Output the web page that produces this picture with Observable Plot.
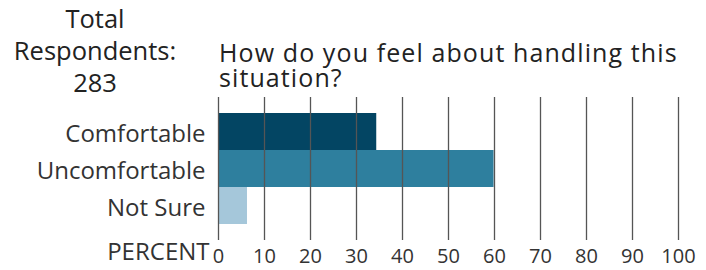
<!DOCTYPE html>
<html><head><meta charset="utf-8">
<script src="https://cdn.jsdelivr.net/npm/d3@7"></script>
<script src="https://cdn.jsdelivr.net/npm/@observablehq/plot@0.6"></script>
<style>
body{margin:0;background:#fff;font-family:"Open Sans",sans-serif;color:#222}
#wrap{position:relative;width:706px;height:270px}
#total{position:absolute;left:0;width:190px;top:2px;text-align:center;font-size:25.5px;line-height:32px;color:#222}
.tline{position:absolute;left:219px;height:25px;font-size:25px;line-height:25px;letter-spacing:1.1px;color:#222;white-space:nowrap}
</style></head><body>
<div id="wrap"><div id="chart"></div><div id="total">Total<br>Respondents:<br>283</div><div class="tline" style="top:39.5px">How do you feel about handling this</div><div class="tline" style="top:64.5px">situation?</div></div>
<script>
const categories = ["Comfortable", "Uncomfortable", "Not Sure"];
const percents = [34.4, 59.9, 6.3];
const colors = ["#034563", "#2e7f9e", "#a5c7da"];
const xTicks = [0, 10, 20, 30, 40, 50, 60, 70, 80, 90, 100];
const axisTitle = "PERCENT";

const data = categories.map((c, i) => ({category: c, percent: percents[i]}));

const chart = Plot.plot({
  width: 706, height: 270,
  marginTop: 97, marginBottom: 30, marginLeft: 218, marginRight: 28,
  style: {fontFamily: "'Open Sans', sans-serif", fontSize: "20px", color: "#333", background: "transparent", overflow: "visible"},
  x: {domain: [0, 100], ticks: xTicks},
  y: {domain: categories, padding: 0, insetTop: 15, insetBottom: 15},
  color: {domain: categories, range: colors},
  marks: [
    Plot.barX(data, {x: "percent", y: "category", fill: "category"}),
    Plot.ruleX(xTicks, {stroke: "#555", strokeWidth: 1.3}),
    Plot.axisX({ticks: xTicks, tickSize: 0, tickPadding: 8, label: null, fontSize: 20}),
    Plot.axisY({tickSize: 0, tickPadding: 13, label: null, dy: 2, fontSize: 24}),
    Plot.text([axisTitle], {x: 0, text: d => d, frameAnchor: "bottom", dx: -9, dy: 19, textAnchor: "end", fontSize: 24, fill: "#333", style: "letter-spacing:1px"})
  ]
});
document.getElementById("chart").appendChild(chart);
</script>
</body></html>
